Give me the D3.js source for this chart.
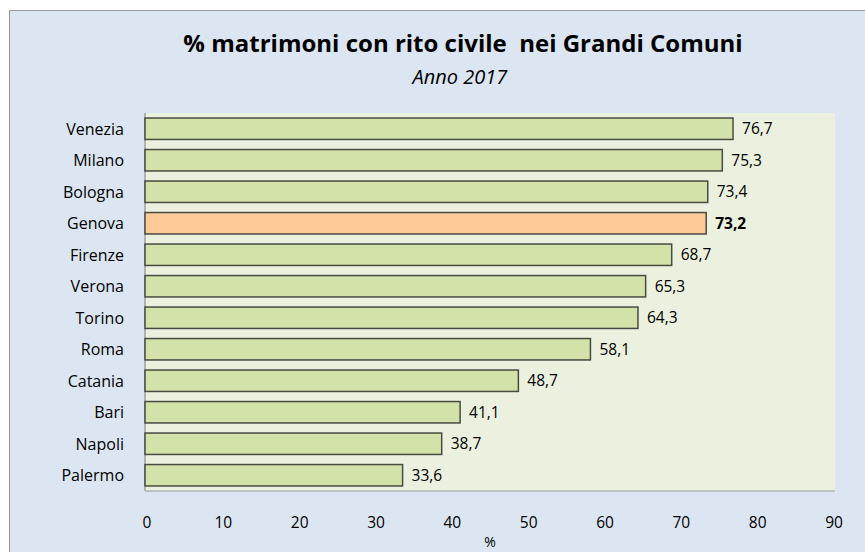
<!DOCTYPE html>
<html>
<head>
<meta charset="utf-8">
<script src="https://cdn.jsdelivr.net/npm/d3@7"></script>
<style>
  body { margin: 0; background: #fff; }
  text { font-family: "Open Sans", Lato, sans-serif; fill: #000; }
</style>
</head>
<body>
<script>
var cities = ['Venezia', 'Milano', 'Bologna', 'Genova', 'Firenze', 'Verona', 'Torino', 'Roma', 'Catania', 'Bari', 'Napoli', 'Palermo']
var values = [76.7, 75.3, 73.4, 73.2, 68.7, 65.3, 64.3, 58.1, 48.7, 41.1, 38.7, 33.6]
var highlight = 'Genova'
var xTicks = [0, 10, 20, 30, 40, 50, 60, 70, 80, 90]

var width = 865
var height = 552
var plot = { left: 145, top: 113, right: 835, bottom: 491 }

var svg = d3.select('body').append('svg')
  .attr('width', width)
  .attr('height', height)

// chart area
svg.append('rect')
  .attr('x', 9.5).attr('y', 10.5)
  .attr('width', width - 9).attr('height', height - 10)
  .style('fill', '#dce6f2')
  .style('stroke', '#9a9a9a')
  .style('stroke-width', 1)

// plot area
svg.append('rect')
  .attr('x', plot.left).attr('y', plot.top)
  .attr('width', plot.right - plot.left).attr('height', plot.bottom - plot.top)
  .style('fill', '#ebf0df')

var x = d3.scaleLinear().domain([0, 90]).range([plot.left, plot.right])
var y = d3.scaleBand().domain(cities).range([plot.top, plot.bottom])
  .paddingInner(0.32).paddingOuter(0.16)

// axis lines
svg.append('line')
  .attr('x1', plot.left).attr('x2', plot.left)
  .attr('y1', plot.top).attr('y2', plot.bottom)
  .style('stroke', '#a0a0a0').style('stroke-width', 1.5)
svg.append('line')
  .attr('x1', plot.left).attr('x2', plot.right)
  .attr('y1', plot.bottom).attr('y2', plot.bottom)
  .style('stroke', '#b4b4b4').style('stroke-width', 1.5)

// bars
svg.selectAll('.bar').data(cities).enter().append('rect')
  .attr('class', 'bar')
  .attr('x', x(0))
  .attr('y', function (d) { return y(d) })
  .attr('width', function (d, i) { return x(values[i]) - x(0) })
  .attr('height', y.bandwidth())
  .style('fill', function (d) { return d === highlight ? '#fecb98' : '#d2e2a8' })
  .style('stroke', '#4a4a44')
  .style('stroke-width', 1.5)

// value labels
svg.selectAll('.val').data(cities).enter().append('text')
  .attr('class', 'val')
  .attr('x', function (d, i) { return x(values[i]) + 9 })
  .attr('y', function (d) { return y(d) + y.bandwidth() / 2 })
  .attr('dy', '0.36em')
  .style('font-size', '15.5px')
  .style('font-weight', function (d) { return d === highlight ? 'bold' : 'normal' })
  .text(function (d, i) { return values[i].toFixed(1).replace('.', ',') })

// category labels
svg.selectAll('.cat').data(cities).enter().append('text')
  .attr('class', 'cat')
  .attr('x', 124)
  .attr('y', function (d) { return y(d) + y.bandwidth() / 2 })
  .attr('dy', '0.36em')
  .attr('text-anchor', 'end')
  .style('font-size', '16px')
  .text(function (d) { return d })

// x tick labels
svg.selectAll('.tick').data(xTicks).enter().append('text')
  .attr('class', 'tick')
  .attr('x', function (d) { return x(d) + 2 - d / 30 })
  .attr('y', 528)
  .attr('text-anchor', 'middle')
  .style('font-size', '15.5px')
  .text(function (d) { return d })

svg.append('text')
  .attr('x', 490).attr('y', 547)
  .attr('text-anchor', 'middle')
  .style('font-size', '14px')
  .text('%')

// titles
svg.append('text')
  .attr('x', 463).attr('y', 52)
  .attr('text-anchor', 'middle')
  .style('font-size', '24px')
  .style('font-weight', 'bold')
  .attr('xml:space', 'preserve')
  .text('% matrimoni con rito civile  nei Grandi Comuni')

svg.append('text')
  .attr('x', 460).attr('y', 84)
  .attr('text-anchor', 'middle')
  .style('font-size', '20px')
  .style('font-style', 'italic')
  .text('Anno 2017')
</script>
</body>
</html>
